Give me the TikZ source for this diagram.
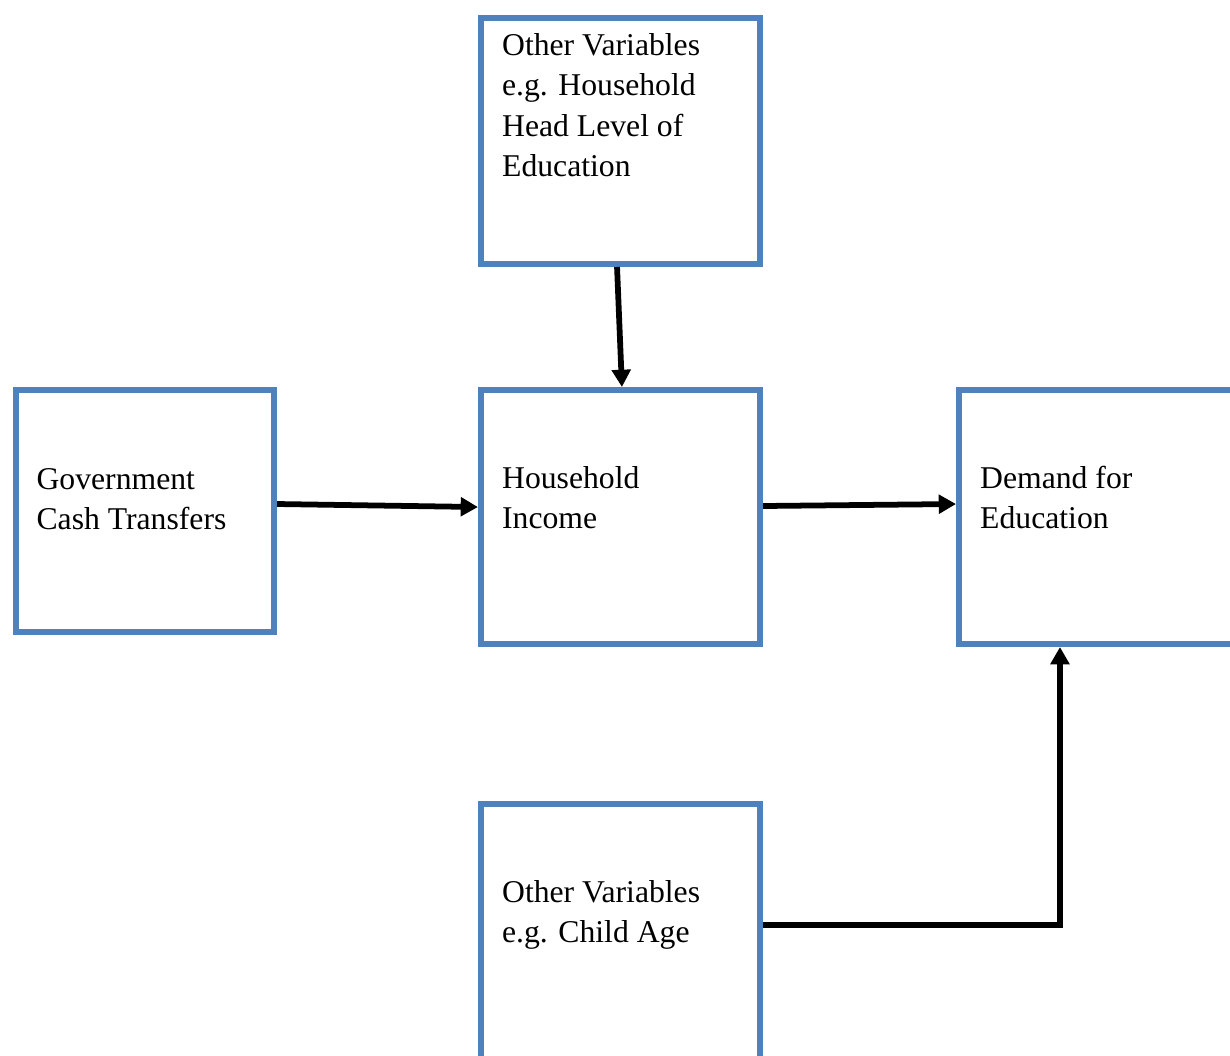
\documentclass[tikz,border=0pt]{standalone}
\usepackage{fontspec}
\setmainfont{Liberation Serif}
\usepackage{tikz}
\usetikzlibrary{arrows.meta, calc, positioning}

\definecolor{boxblue}{RGB}{79,129,189}
\newcommand{\boxlines}[1]{\begin{tabular}[t]{@{}l@{}}#1\end{tabular}}

\tikzset{
  varbox/.style={draw=boxblue, line width=2.08pt, rectangle, inner sep=0pt},
  boxtext/.style={anchor=base west, inner sep=0pt,
    font=\fontsize{11}{13.9}\selectfont},
  conn/.style={line width=2pt, -{Triangle[length=6pt, width=6.4pt]}}
}

\begin{document}
\begin{tikzpicture}[x=0.3472pt, y=-0.3472pt]
\clip (0,0) rectangle (1230,1055);
% boxes
\node[varbox, minimum width=96.9pt, minimum height=85.4pt] (oth1) at (620.5,141) {};
\node[varbox, minimum width=89.6pt, minimum height=84.0pt] (gov) at (145,511) {};
\node[varbox, minimum width=96.9pt, minimum height=88.2pt] (inc) at (620.5,517) {};
\node[varbox, minimum width=97.9pt, minimum height=88.2pt] (dem) at (1100,517) {};
\node[varbox, minimum width=96.9pt, minimum height=89.6pt] (oth2) at (620.5,933) {};
% texts
\node[boxtext] (oth1txt) at ([xshift=8.2pt, yshift=-14.2pt]oth1.north west)
  {\boxlines{Other Variables\\e.g. Household\\Head Level of\\Education}};
\node[boxtext] (govtxt) at ([xshift=8.0pt, yshift=-35.4pt]gov.north west)
  {\boxlines{Government\\Cash Transfers}};
\node[boxtext] (inctxt) at ([xshift=8.2pt, yshift=-35.4pt]inc.north west)
  {\boxlines{Household\\Income}};
\node[boxtext] (demtxt) at ([xshift=8.2pt, yshift=-35.4pt]dem.north west)
  {\boxlines{Demand for\\Education}};
\node[boxtext] (oth2txt) at ([xshift=8.2pt, yshift=-35.4pt]oth2.north west)
  {\boxlines{Other Variables\\e.g. Child Age}};
% arrows
\draw[conn] ([yshift=2.43pt]gov.east) -- ([yshift=3.47pt]inc.west);
\draw[conn] ([yshift=3.82pt]inc.east) -- ([yshift=4.51pt]dem.west);
\draw[conn] ([xshift=-1.2pt]oth1.south) -- ([xshift=0.5pt]inc.north);
\draw[conn] ([yshift=2.78pt]oth2.east) -| ([xshift=-13.9pt]dem.south);
\end{tikzpicture}
\end{document}
